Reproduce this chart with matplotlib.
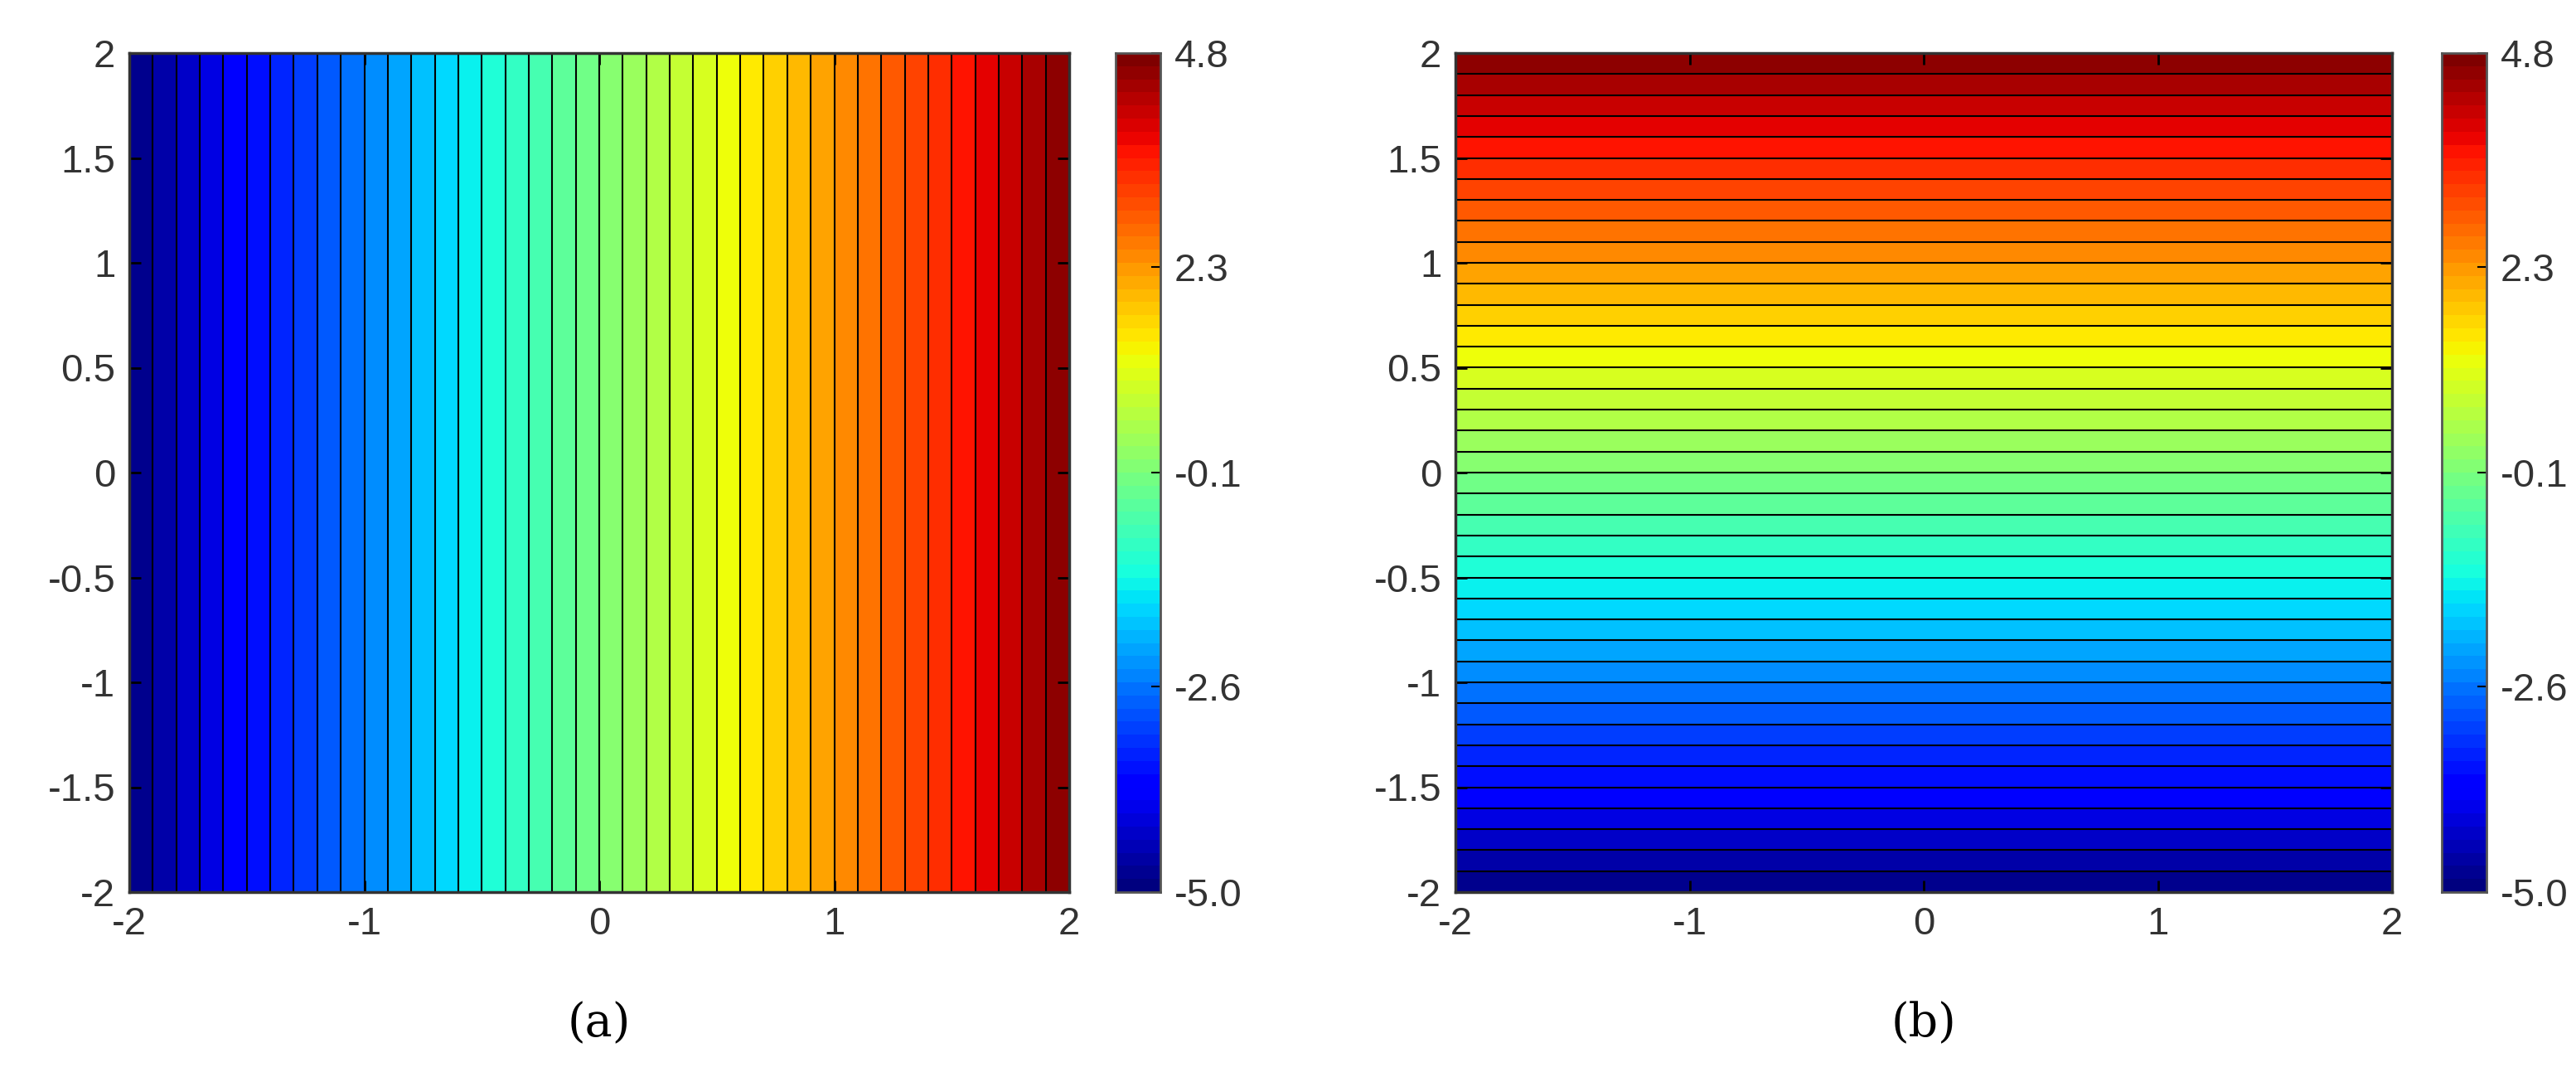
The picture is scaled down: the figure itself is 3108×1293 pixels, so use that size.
import matplotlib
matplotlib.use('Agg')
import matplotlib.pyplot as plt
import numpy as np

plt.rcParams['font.family'] = ['Liberation Sans', 'DejaVu Sans']

x_range = [-2, 2]
y_range = [-2, 2]
f_min, f_max = -5.0, 4.8
n_levels = 41
cbar_ticks = [-5.0, -2.6, -0.1, 2.3, 4.8]
axis_ticks = [-2, -1.5, -1, -0.5, 0, 0.5, 1, 1.5, 2]
x_ticks = [-2, -1, 0, 1, 2]
labels = ['a', 'b']

fig = plt.figure(figsize=(31.08, 12.93), dpi=100)
W, H = 3108, 1293
ax_boxes = [(156, 64, 1134, 1012), (1756, 64, 1130, 1012)]
cb_boxes = [(1346, 64, 54, 1012), (2946, 64, 54, 1012)]

x = np.linspace(*x_range, 401)
y = np.linspace(*y_range, 401)
X, Y = np.meshgrid(x, y)
fields = [f_min + (X + 2) / 4 * (f_max - f_min), f_min + (Y + 2) / 4 * (f_max - f_min)]
levels = np.linspace(f_min, f_max, n_levels)
tc = '#333333'

for i in range(2):
    l, t, w, h = ax_boxes[i]
    ax = fig.add_axes([l / W, 1 - (t + h) / H, w / W, h / H])
    ax.contourf(X, Y, fields[i], levels=levels, cmap='jet', vmin=f_min, vmax=f_max)
    ax.contour(X, Y, fields[i], levels=levels, colors='k', linewidths=1.5,
               linestyles='solid')
    ax.set_xlim(*x_range)
    ax.set_ylim(*y_range)
    ax.set_xticks(x_ticks)
    ax.set_yticks(axis_ticks)
    ax.set_xticklabels([f'{v:g}' for v in x_ticks])
    ax.set_yticklabels([f'{v:g}' for v in axis_ticks])
    ax.tick_params(direction='in', length=10, width=2, labelsize=34, labelcolor=tc,
                   top=True, right=True, pad=12)
    for s in ax.spines.values():
        s.set_linewidth(2.5)
        s.set_color('#333333')
    ax.text(0.5, -0.13, f'({labels[i]})', transform=ax.transAxes, ha='center', va='top',
            fontsize=40, family=['DejaVu Serif'])

    l, t, w, h = cb_boxes[i]
    cax = fig.add_axes([l / W, 1 - (t + h) / H, w / W, h / H])
    grad = np.linspace(f_min, f_max, 64).reshape(-1, 1)
    cax.imshow(grad, aspect='auto', cmap='jet', origin='lower',
               extent=[0, 1, f_min, f_max])
    cax.set_xticks([])
    cax.yaxis.tick_right()
    cax.set_yticks(cbar_ticks)
    cax.set_yticklabels([f'{v:.1f}' for v in cbar_ticks])
    cax.tick_params(direction='in', length=8, width=1.5, labelsize=34, labelcolor=tc, pad=12)
    for s in cax.spines.values():
        s.set_linewidth(2)
        s.set_color('#555555')

fig.savefig('out.png', dpi=100)
